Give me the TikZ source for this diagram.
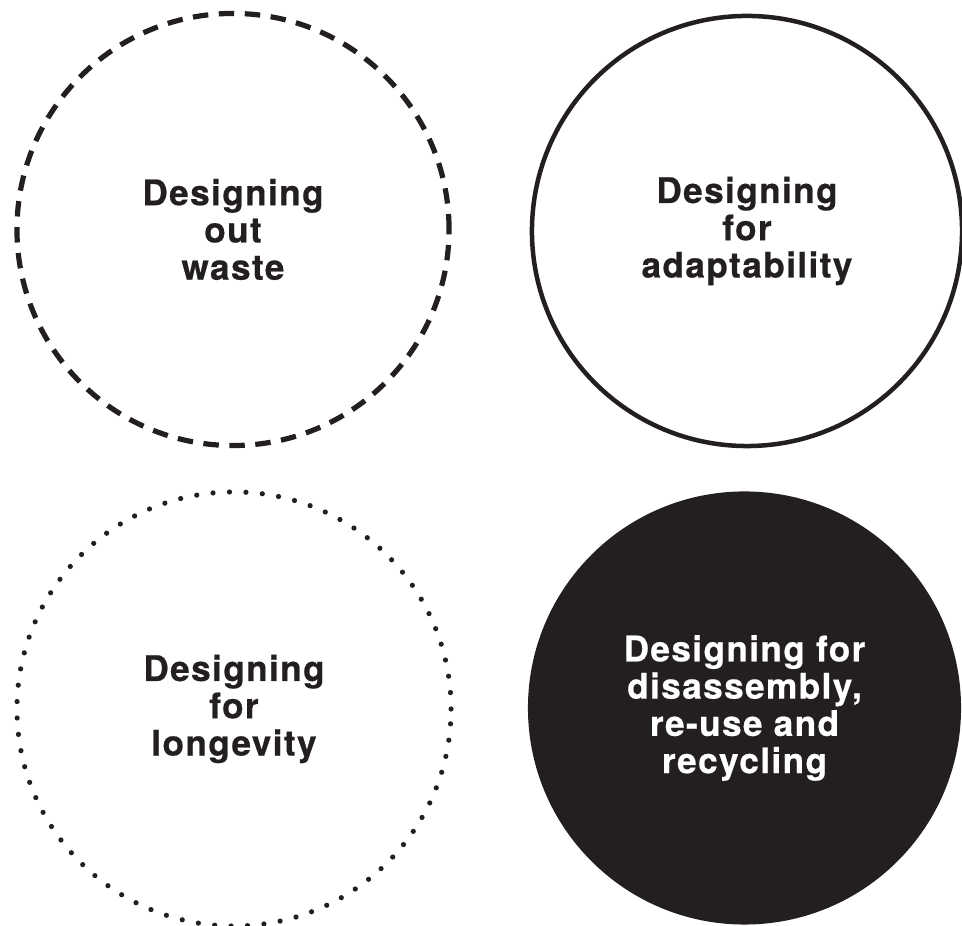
\documentclass[tikz,border=0pt]{standalone}
\usepackage{fontspec}
\newfontfamily\ringfont{TeX Gyre Heros}[LetterSpace=4,BoldFeatures={FakeBold=0.6}]
\definecolor{ink}{HTML}{231F20}

\begin{document}
\begin{tikzpicture}[line cap=round,line join=round,x=0.025cm,y=0.025cm,
  ring/.style={circle,inner sep=0pt,align=center,text=ink,
    font=\ringfont\bfseries\fontsize{25}{26.5}\selectfont},
  dashring/.style={ring,draw=ink,line width=3.7pt,line cap=butt,dash pattern=on 11pt off 7.5pt},
  solidring/.style={ring,draw=ink,line width=3.2pt},
  dotring/.style={ring,draw=ink,line width=3.7pt,dash pattern=on 0pt off 11.7pt},
  fillring/.style={ring,fill=ink,text=white}]
\useasboundingbox (0,0) rectangle (962,926);

\node[dashring,minimum size=10.8cm] (waste) at (233,696.5) {Designing\\out\\waste};
\node[solidring,minimum size=10.75cm] (adapt) at (747,695) {Designing\\for\\adaptability};
\node[dotring,minimum size=10.85cm] (longevity) at (234,217) {Designing\\for\\longevity};
\node[fillring,minimum size=10.825cm] (recycle) at (744.5,218) {Designing for\\disassembly,\\re-use and\\recycling};
\end{tikzpicture}
\end{document}
